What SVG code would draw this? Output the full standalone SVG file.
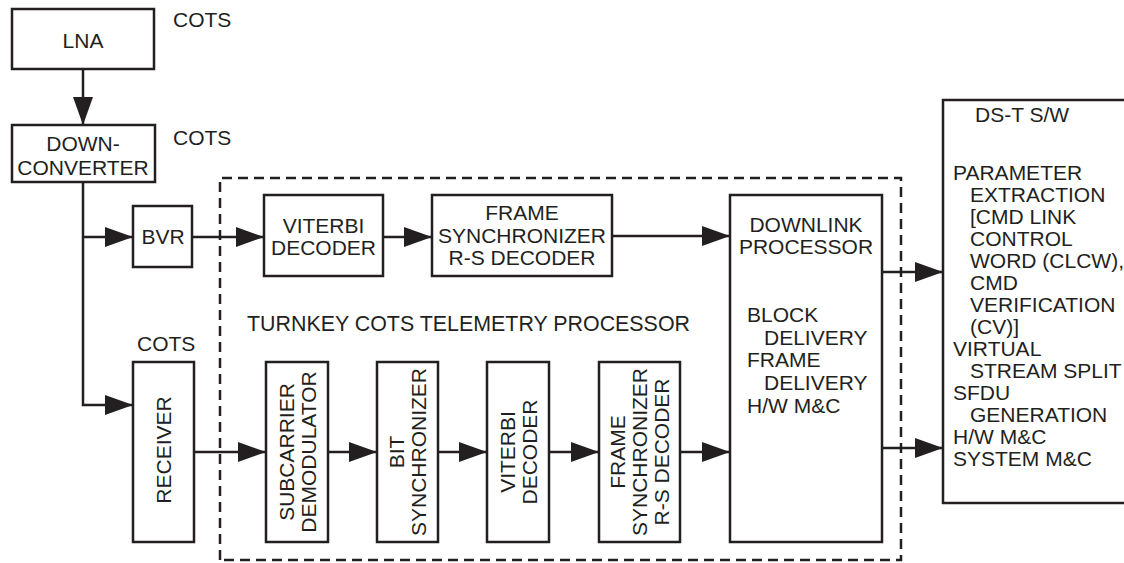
<svg xmlns="http://www.w3.org/2000/svg" width="1124" height="563" viewBox="0 0 1124 563">
<style>
.box{fill:#fff;stroke:#231f20;stroke-width:2.5}
.ln{fill:none;stroke:#231f20;stroke-width:2.5}
.dash{fill:none;stroke:#231f20;stroke-width:2.5;stroke-dasharray:10 6}
text{font-family:"Liberation Sans",Arial,sans-serif;font-size:21px;fill:#231f20}
.c{text-anchor:middle}
</style>
<defs>
<marker id="ah" markerUnits="userSpaceOnUse" markerWidth="28" markerHeight="20" refX="28" refY="10" orient="auto">
<path d="M0,0 L28,10 L0,20 Z" fill="#231f20"/>
</marker>
</defs>
<rect width="1124" height="563" fill="#fff"/>
<g id="boundary">
<path class="dash" d="M220,560 L220,178 L901,178 L901,560 Z"/>
<text x="247" y="331" style="font-size:21.4px">TURNKEY COTS TELEMETRY PROCESSOR</text>
</g>
<g id="connectors">
<path class="ln" d="M83,69 L83,125" marker-end="url(#ah)"/>
<path class="ln" d="M83,182 L83,405 L133,405" marker-end="url(#ah)"/>
<path class="ln" d="M83,237 L133,237" marker-end="url(#ah)"/>
<path class="ln" d="M192,237 L264,237" marker-end="url(#ah)"/>
<path class="ln" d="M383,237 L432,237" marker-end="url(#ah)"/>
<path class="ln" d="M612,236 L730,236" marker-end="url(#ah)"/>
<path class="ln" d="M194,452 L266,452" marker-end="url(#ah)"/>
<path class="ln" d="M328,452 L377,452" marker-end="url(#ah)"/>
<path class="ln" d="M438,452 L487,452" marker-end="url(#ah)"/>
<path class="ln" d="M549,452 L599,452" marker-end="url(#ah)"/>
<path class="ln" d="M680,452 L730,452" marker-end="url(#ah)"/>
<path class="ln" d="M882,272 L943,272" marker-end="url(#ah)"/>
<path class="ln" d="M882,448 L943,448" marker-end="url(#ah)"/>
</g>
<g id="lna">
<rect class="box" x="12" y="9" width="142" height="60"/>
<text class="c" x="83" y="48">LNA</text>
<text x="173" y="27">COTS</text>
</g>
<g id="downconverter">
<rect class="box" x="12" y="125" width="143" height="57"/>
<text class="c" x="83" y="151">DOWN-</text>
<text class="c" x="83" y="175">CONVERTER</text>
<text x="173" y="145">COTS</text>
</g>
<g id="bvr">
<rect class="box" x="133" y="206" width="59" height="61"/>
<text class="c" x="163" y="244">BVR</text>
</g>
<g id="receiver">
<rect class="box" x="133" y="362" width="61" height="180"/>
<text class="c" transform="translate(163.5,450) rotate(-90)" y="7.5">RECEIVER</text>
<text x="137" y="351">COTS</text>
</g>
<g id="viterbi-top">
<rect class="box" x="264" y="195" width="119" height="81"/>
<text class="c" x="323.5" y="233">VITERBI</text>
<text class="c" x="323.5" y="255">DECODER</text>
</g>
<g id="framesync-top">
<rect class="box" x="432" y="195" width="180" height="81"/>
<text class="c" x="522" y="220">FRAME</text>
<text class="c" x="522" y="243">SYNCHRONIZER</text>
<text class="c" x="522" y="265">R-S DECODER</text>
</g>
<g id="subcarrier">
<rect class="box" x="266" y="362" width="62" height="180"/>
<text class="c" transform="translate(297,452) rotate(-90)"><tspan x="0" y="-3.5">SUBCARRIER</tspan><tspan x="0" y="18.5">DEMODULATOR</tspan></text>
</g>
<g id="bitsync">
<rect class="box" x="377" y="362" width="61" height="180"/>
<text class="c" transform="translate(407.5,452) rotate(-90)"><tspan x="0" y="-3.5">BIT</tspan><tspan x="0" y="18.5">SYNCHRONIZER</tspan></text>
</g>
<g id="viterbi-bottom">
<rect class="box" x="487" y="362" width="62" height="180"/>
<text class="c" transform="translate(518,452) rotate(-90)"><tspan x="0" y="-3.5">VITERBI</tspan><tspan x="0" y="18.5">DECODER</tspan></text>
</g>
<g id="framesync-bottom">
<rect class="box" x="599" y="362" width="81" height="180"/>
<text class="c" transform="translate(639.5,452) rotate(-90)"><tspan x="0" y="-14.5">FRAME</tspan><tspan x="0" y="7.5">SYNCHRONIZER</tspan><tspan x="0" y="29.5">R-S DECODER</tspan></text>
</g>
<g id="downlink">
<rect class="box" x="730" y="195" width="152" height="347"/>
<text class="c" x="806" y="232">DOWNLINK</text>
<text class="c" x="806" y="254">PROCESSOR</text>
<text x="747" y="322">BLOCK</text>
<text x="764" y="345">DELIVERY</text>
<text x="747" y="367">FRAME</text>
<text x="764" y="390">DELIVERY</text>
<text x="747" y="413">H/W M&amp;C</text>
</g>
<g id="dst">
<rect class="box" x="943" y="100" width="190" height="403"/>
<text x="975" y="122">DS-T S/W</text>
<text x="953" y="180">PARAMETER</text>
<text x="970" y="202">EXTRACTION</text>
<text x="970" y="224">[CMD LINK</text>
<text x="970" y="246">CONTROL</text>
<text x="970" y="268">WORD (CLCW),</text>
<text x="970" y="290">CMD</text>
<text x="970" y="312">VERIFICATION</text>
<text x="970" y="334">(CV)]</text>
<text x="953" y="356">VIRTUAL</text>
<text x="970" y="378">STREAM SPLIT</text>
<text x="953" y="400">SFDU</text>
<text x="970" y="422">GENERATION</text>
<text x="953" y="444">H/W M&amp;C</text>
<text x="953" y="466">SYSTEM M&amp;C</text>
</g>
</svg>
